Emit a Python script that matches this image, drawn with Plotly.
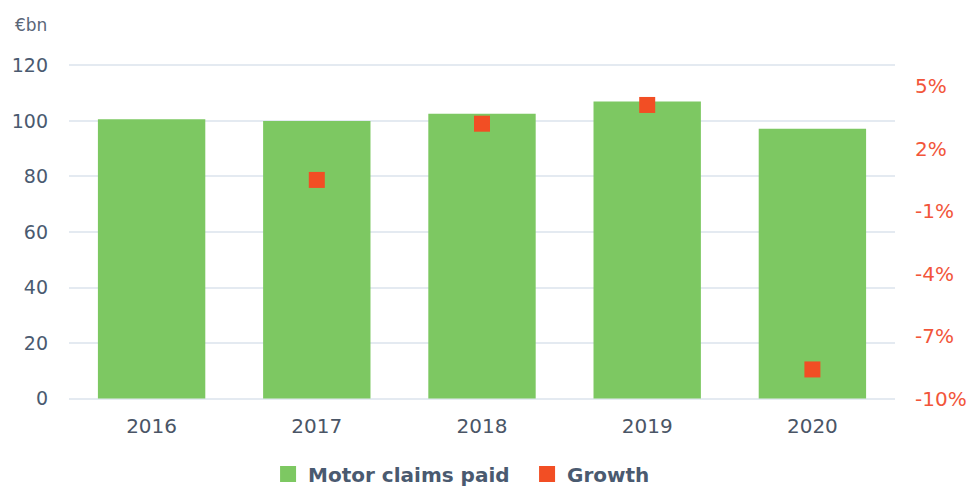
import plotly.graph_objects as go

years = ["2016", "2017", "2018", "2019", "2020"]
claims = [100.6, 100.0, 102.6, 107.0, 97.2]
growth_years = ["2017", "2018", "2019", "2020"]
growth = [0.5, 3.2, 4.1, -8.6]
left_ticks = [0, 20, 40, 60, 80, 100, 120]
right_ticks = [-10, -7, -4, -1, 2, 5]
right_labels = ["-10%", "-7%", "-4%", "-1%", "2%", "5%"]

green = "#7dc862"
red = "#f24e24"

fig = go.Figure()
fig.add_trace(go.Bar(x=years, y=claims, name="Motor claims paid", showlegend=False,
                     marker=dict(color=green, line=dict(width=0)), width=0.65))
fig.add_trace(go.Scatter(x=[None], y=[None], name="Motor claims paid", mode="markers",
                         marker=dict(symbol="square", size=16, color=green)))
fig.add_trace(go.Scatter(x=growth_years, y=growth, name="Growth", yaxis="y2", mode="markers",
                         marker=dict(symbol="square", size=16, color=red)))

font = "DejaVu Sans, sans-serif"
eps = 0.5
fig.update_layout(
    width=974, height=487,
    margin=dict(l=69, r=79, t=64, b=87, autoexpand=False),
    plot_bgcolor="white", paper_bgcolor="white",
    font=dict(family=font, size=19, color="#4a5566"),
    xaxis=dict(showgrid=False, showline=False, ticks="", ticklabelstandoff=12,
               tickfont=dict(size=20, color="#4a5566")),
    yaxis=dict(range=[-eps, 120 + eps], tickvals=left_ticks, showgrid=True, gridcolor="#e4eaf1", gridwidth=1.5,
               zeroline=False, ticks="", ticklabelstandoff=20, tickfont=dict(size=19, color="#4a5a70")),
    yaxis2=dict(range=[-10 - eps * 16 / 120, 6 + eps * 16 / 120], overlaying="y", side="right",
                tickvals=right_ticks, ticktext=right_labels,
                showgrid=False, zeroline=False, ticks="", ticklabelstandoff=19,
                tickfont=dict(size=20, color="#f2553a")),
    legend=dict(orientation="h", x=0.241, xanchor="left", y=-0.22, yanchor="middle",
                font=dict(size=20, color="#4a5a70", weight="bold"), itemwidth=30,
                entrywidth=214, entrywidthmode="pixels", bgcolor="rgba(0,0,0,0)"),
    showlegend=True,
)
fig.add_annotation(text="€bn", xref="paper", yref="paper", x=-0.068, y=1.115, xanchor="left", yanchor="middle",
                   showarrow=False, font=dict(size=17, color="#5a6678"))
fig.write_html("out.html")
